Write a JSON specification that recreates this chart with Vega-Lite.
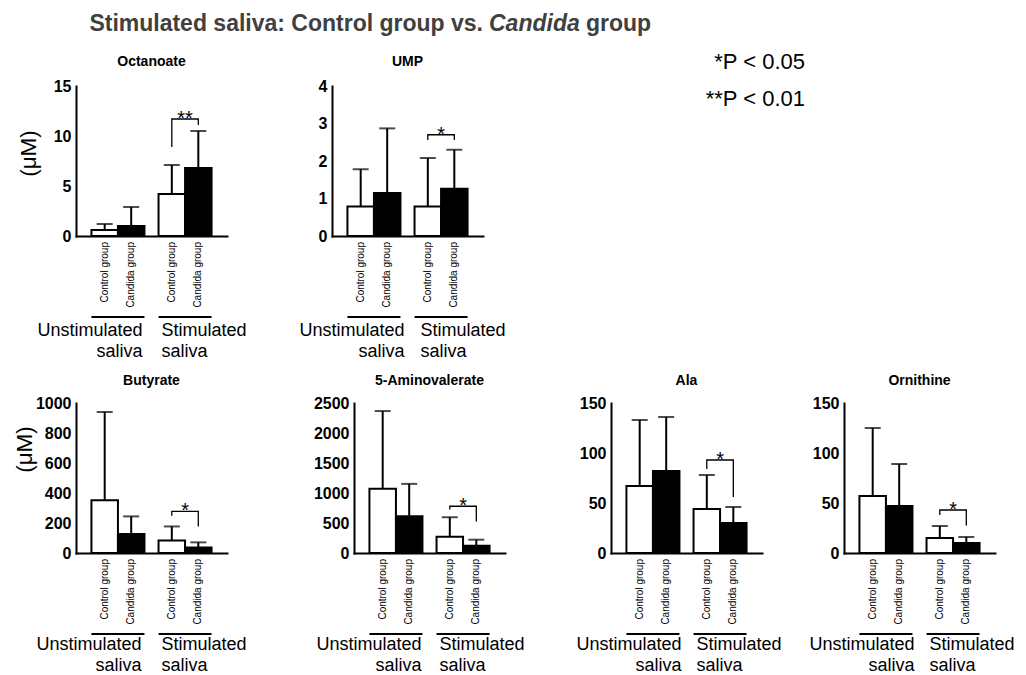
{
  "$schema": "https://vega.github.io/schema/vega-lite/v6.json",
  "padding": {"left": 12, "top": 12, "right": 4, "bottom": 2},
  "config": {
    "view": {"stroke": "transparent"},
    "font": "Liberation Sans",
    "text": {"color": "black"},
    "title": {"color": "black"},
    "axisY": {"ticks": false, "grid": false, "labelFontSize": 16, "labelFontWeight": "bold", "labelColor": "black", "labelPadding": 5, "labelOverlap": false, "format": "d", "domainWidth": 2, "domainColor": "black", "domainCap": "square", "titleFontSize": 22.5, "titleFontWeight": "normal", "titleColor": "black", "titleAngle": 270, "titleAlign": "center", "titleBaseline": "middle"},
    "axisX": {"title": null, "labels": false, "ticks": false, "domainWidth": 2, "domainColor": "black", "domainCap": "square"}
  },
  "datasets": {
    "bars": [
      {"metabolite": "Octanoate", "saliva": "Unstimulated", "group": "Control group", "mean": 0.6, "upper": 1.2},
      {"metabolite": "Octanoate", "saliva": "Unstimulated", "group": "Candida group", "mean": 1.0, "upper": 2.9},
      {"metabolite": "Octanoate", "saliva": "Stimulated", "group": "Control group", "mean": 4.2, "upper": 7.1},
      {"metabolite": "Octanoate", "saliva": "Stimulated", "group": "Candida group", "mean": 6.8, "upper": 10.5},
      {"metabolite": "UMP", "saliva": "Unstimulated", "group": "Control group", "mean": 0.79, "upper": 1.78},
      {"metabolite": "UMP", "saliva": "Unstimulated", "group": "Candida group", "mean": 1.15, "upper": 2.87},
      {"metabolite": "UMP", "saliva": "Stimulated", "group": "Control group", "mean": 0.79, "upper": 2.08},
      {"metabolite": "UMP", "saliva": "Stimulated", "group": "Candida group", "mean": 1.26, "upper": 2.3},
      {"metabolite": "Butyrate", "saliva": "Unstimulated", "group": "Control group", "mean": 351, "upper": 940},
      {"metabolite": "Butyrate", "saliva": "Unstimulated", "group": "Candida group", "mean": 127, "upper": 244},
      {"metabolite": "Butyrate", "saliva": "Stimulated", "group": "Control group", "mean": 84, "upper": 177},
      {"metabolite": "Butyrate", "saliva": "Stimulated", "group": "Candida group", "mean": 37, "upper": 71},
      {"metabolite": "5-Aminovalerate", "saliva": "Unstimulated", "group": "Control group", "mean": 1069, "upper": 2366},
      {"metabolite": "5-Aminovalerate", "saliva": "Unstimulated", "group": "Candida group", "mean": 612, "upper": 1152},
      {"metabolite": "5-Aminovalerate", "saliva": "Stimulated", "group": "Control group", "mean": 272, "upper": 596},
      {"metabolite": "5-Aminovalerate", "saliva": "Stimulated", "group": "Candida group", "mean": 122, "upper": 222},
      {"metabolite": "Ala", "saliva": "Unstimulated", "group": "Control group", "mean": 67, "upper": 133},
      {"metabolite": "Ala", "saliva": "Unstimulated", "group": "Candida group", "mean": 82, "upper": 136},
      {"metabolite": "Ala", "saliva": "Stimulated", "group": "Control group", "mean": 44, "upper": 78},
      {"metabolite": "Ala", "saliva": "Stimulated", "group": "Candida group", "mean": 30, "upper": 46},
      {"metabolite": "Ornithine", "saliva": "Unstimulated", "group": "Control group", "mean": 57, "upper": 125},
      {"metabolite": "Ornithine", "saliva": "Unstimulated", "group": "Candida group", "mean": 47, "upper": 89},
      {"metabolite": "Ornithine", "saliva": "Stimulated", "group": "Control group", "mean": 15, "upper": 27},
      {"metabolite": "Ornithine", "saliva": "Stimulated", "group": "Candida group", "mean": 10, "upper": 16}
    ],
    "brackets": [
      {"metabolite": "Octanoate", "saliva": "Stimulated", "group": "Control group", "step": 1, "y": 8.9},
      {"metabolite": "Octanoate", "saliva": "Stimulated", "group": "Control group", "step": 2, "y": 11.7},
      {"metabolite": "Octanoate", "saliva": "Stimulated", "group": "Candida group", "step": 3, "y": 11.7},
      {"metabolite": "Octanoate", "saliva": "Stimulated", "group": "Candida group", "step": 4, "y": 11.1},
      {"metabolite": "UMP", "saliva": "Stimulated", "group": "Control group", "step": 1, "y": 2.56},
      {"metabolite": "UMP", "saliva": "Stimulated", "group": "Control group", "step": 2, "y": 2.7},
      {"metabolite": "UMP", "saliva": "Stimulated", "group": "Candida group", "step": 3, "y": 2.7},
      {"metabolite": "UMP", "saliva": "Stimulated", "group": "Candida group", "step": 4, "y": 2.56},
      {"metabolite": "Butyrate", "saliva": "Stimulated", "group": "Control group", "step": 1, "y": 249},
      {"metabolite": "Butyrate", "saliva": "Stimulated", "group": "Control group", "step": 2, "y": 277},
      {"metabolite": "Butyrate", "saliva": "Stimulated", "group": "Candida group", "step": 3, "y": 277},
      {"metabolite": "Butyrate", "saliva": "Stimulated", "group": "Candida group", "step": 4, "y": 177},
      {"metabolite": "5-Aminovalerate", "saliva": "Stimulated", "group": "Control group", "step": 1, "y": 723},
      {"metabolite": "5-Aminovalerate", "saliva": "Stimulated", "group": "Control group", "step": 2, "y": 779},
      {"metabolite": "5-Aminovalerate", "saliva": "Stimulated", "group": "Candida group", "step": 3, "y": 779},
      {"metabolite": "5-Aminovalerate", "saliva": "Stimulated", "group": "Candida group", "step": 4, "y": 523},
      {"metabolite": "Ala", "saliva": "Stimulated", "group": "Control group", "step": 1, "y": 84},
      {"metabolite": "Ala", "saliva": "Stimulated", "group": "Control group", "step": 2, "y": 93},
      {"metabolite": "Ala", "saliva": "Stimulated", "group": "Candida group", "step": 3, "y": 93},
      {"metabolite": "Ala", "saliva": "Stimulated", "group": "Candida group", "step": 4, "y": 56},
      {"metabolite": "Ornithine", "saliva": "Stimulated", "group": "Control group", "step": 1, "y": 38},
      {"metabolite": "Ornithine", "saliva": "Stimulated", "group": "Control group", "step": 2, "y": 43},
      {"metabolite": "Ornithine", "saliva": "Stimulated", "group": "Candida group", "step": 3, "y": 43},
      {"metabolite": "Ornithine", "saliva": "Stimulated", "group": "Candida group", "step": 4, "y": 27.5}
    ],
    "stars": [
      {"metabolite": "Octanoate", "saliva": "Stimulated", "label": "**", "y": 11.7},
      {"metabolite": "UMP", "saliva": "Stimulated", "label": "*", "y": 2.7},
      {"metabolite": "Butyrate", "saliva": "Stimulated", "label": "*", "y": 277},
      {"metabolite": "5-Aminovalerate", "saliva": "Stimulated", "label": "*", "y": 779},
      {"metabolite": "Ala", "saliva": "Stimulated", "label": "*", "y": 93},
      {"metabolite": "Ornithine", "saliva": "Stimulated", "label": "*", "y": 43}
    ],
    "groups": [
      {"saliva": "Unstimulated", "label": "Unstimulated\nsaliva"},
      {"saliva": "Stimulated", "label": "Stimulated\nsaliva"}
    ]
  },
  "bounds": "full",
  "spacing": 1,
  "vconcat": [
    {
      "bounds": "full",
      "spacing": 6,
      "hconcat": [
        {"width": 407, "height": 1, "data": {"values": [{}]}, "mark": {"type": "text", "text": ""},
         "title": {"text": "Stimulated saliva: Control group vs.", "anchor": "end", "fontSize": 23, "fontWeight": "bold", "color": "#404040", "frame": "group", "offset": 2}},
        {"width": 1, "height": 1, "data": {"values": [{}]}, "mark": {"type": "text", "text": ""},
         "title": {"text": "Candida", "anchor": "start", "fontSize": 23, "fontWeight": "bold", "fontStyle": "italic", "color": "#404040", "frame": "group", "offset": 2}},
        {"width": 1, "height": 1, "data": {"values": [{}]}, "mark": {"type": "text", "text": ""},
         "title": {"text": "group", "anchor": "start", "fontSize": 23, "fontWeight": "bold", "color": "#404040", "frame": "group", "offset": 2}}
      ]
    },
    {
      "bounds": "flush",
      "spacing": 0,
      "hconcat": [
        {
          "width": 151, "height": 150,
          "title": {"text": "Octanoate", "fontSize": 14, "fontWeight": "bold", "frame": "group", "offset": -2, "baseline": "alphabetic"},
          "encoding": {"x": {"field": "saliva", "type": "nominal", "scale": {"domain": ["Unstimulated", "Stimulated"], "paddingInner": 0.21, "paddingOuter": 0.23}}},
          "layer": [
            {"data": {"name": "bars"}, "transform": [{"filter": "datum.metabolite == 'Octanoate'"}],
             "mark": {"type": "rule", "strokeWidth": 2, "color": "black"},
             "encoding": {"xOffset": {"field": "group", "type": "nominal", "scale": {"domain": ["Control group", "Candida group"], "paddingInner": 0, "paddingOuter": 0}},
               "y": {"field": "mean", "type": "quantitative", "scale": {"domain": [0, 15], "nice": false},
                 "axis": {"values": [0, 5, 10, 15], "tickCount": 20, "labelOverlap": false, "title": "(μM)", "titleX": -48, "titleY": 67}},
               "y2": {"field": "upper"}}},
            {"data": {"name": "bars"}, "transform": [{"filter": "datum.metabolite == 'Octanoate'"}],
             "mark": {"type": "tick", "thickness": 2, "size": 16, "color": "black"},
             "encoding": {"xOffset": {"field": "group", "type": "nominal"}, "y": {"field": "upper", "type": "quantitative"}}},
            {"data": {"name": "bars"}, "transform": [{"filter": "datum.metabolite == 'Octanoate'"}],
             "mark": {"type": "bar", "stroke": "black", "strokeWidth": 2},
             "encoding": {"xOffset": {"field": "group", "type": "nominal"}, "y": {"field": "mean", "type": "quantitative"},
               "fill": {"field": "group", "type": "nominal", "scale": {"domain": ["Control group", "Candida group"], "range": ["white", "black"]}, "legend": null}}},
            {"data": {"name": "brackets"}, "transform": [{"filter": "datum.metabolite == 'Octanoate'"}],
             "mark": {"type": "line", "strokeWidth": 1.3, "color": "black"},
             "encoding": {"xOffset": {"field": "group", "type": "nominal"}, "y": {"field": "y", "type": "quantitative"}, "order": {"field": "step", "type": "quantitative"}}},
            {"data": {"name": "stars"}, "transform": [{"filter": "datum.metabolite == 'Octanoate'"}],
             "mark": {"type": "text", "fontSize": 20, "baseline": "alphabetic", "dy": 6},
             "encoding": {"y": {"field": "y", "type": "quantitative"}, "text": {"field": "label"}}},
            {"data": {"name": "bars"}, "transform": [{"filter": "datum.metabolite == 'Octanoate'"}],
             "mark": {"type": "text", "angle": 270, "align": "right", "baseline": "middle", "dx": -6, "fontSize": 10},
             "encoding": {"xOffset": {"field": "group", "type": "nominal"}, "y": {"datum": 0}, "text": {"field": "group"}}},
            {"data": {"name": "groups"},
             "mark": {"type": "bar", "color": "black", "yOffset": 80, "y2Offset": 82},
             "encoding": {"y": {"datum": 0}, "y2": {"datum": 0}}},
            {"data": {"name": "groups"}, "transform": [{"filter": "datum.saliva == 'Unstimulated'"}],
             "mark": {"type": "text", "align": "right", "baseline": "top", "fontSize": 18, "lineBreak": "\n", "lineHeight": 21, "dy": 86, "dx": -2},
             "encoding": {"x": {"field": "saliva", "type": "nominal", "bandPosition": 1}, "y": {"datum": 0}, "text": {"field": "label"}}},
            {"data": {"name": "groups"}, "transform": [{"filter": "datum.saliva == 'Stimulated'"}],
             "mark": {"type": "text", "align": "left", "baseline": "top", "fontSize": 18, "lineBreak": "\n", "lineHeight": 21, "dy": 86, "dx": 3},
             "encoding": {"x": {"field": "saliva", "type": "nominal", "bandPosition": 0}, "y": {"datum": 0}, "text": {"field": "label"}}}
          ]
        },
        {"width": 105, "height": 1, "data": {"values": [{}]}, "mark": {"type": "text", "text": ""}},
        {
          "width": 151, "height": 150,
          "title": {"text": "UMP", "fontSize": 14, "fontWeight": "bold", "frame": "group", "offset": -2, "baseline": "alphabetic"},
          "encoding": {"x": {"field": "saliva", "type": "nominal", "scale": {"domain": ["Unstimulated", "Stimulated"], "paddingInner": 0.21, "paddingOuter": 0.23}}},
          "layer": [
            {"data": {"name": "bars"}, "transform": [{"filter": "datum.metabolite == 'UMP'"}],
             "mark": {"type": "rule", "strokeWidth": 2, "color": "black"},
             "encoding": {"xOffset": {"field": "group", "type": "nominal", "scale": {"domain": ["Control group", "Candida group"], "paddingInner": 0, "paddingOuter": 0}},
               "y": {"field": "mean", "type": "quantitative", "scale": {"domain": [0, 4], "nice": false},
                 "axis": {"values": [0, 1, 2, 3, 4], "tickCount": 20, "labelOverlap": false, "title": null}},
               "y2": {"field": "upper"}}},
            {"data": {"name": "bars"}, "transform": [{"filter": "datum.metabolite == 'UMP'"}],
             "mark": {"type": "tick", "thickness": 2, "size": 16, "color": "black"},
             "encoding": {"xOffset": {"field": "group", "type": "nominal"}, "y": {"field": "upper", "type": "quantitative"}}},
            {"data": {"name": "bars"}, "transform": [{"filter": "datum.metabolite == 'UMP'"}],
             "mark": {"type": "bar", "stroke": "black", "strokeWidth": 2},
             "encoding": {"xOffset": {"field": "group", "type": "nominal"}, "y": {"field": "mean", "type": "quantitative"},
               "fill": {"field": "group", "type": "nominal", "scale": {"domain": ["Control group", "Candida group"], "range": ["white", "black"]}, "legend": null}}},
            {"data": {"name": "brackets"}, "transform": [{"filter": "datum.metabolite == 'UMP'"}],
             "mark": {"type": "line", "strokeWidth": 1.3, "color": "black"},
             "encoding": {"xOffset": {"field": "group", "type": "nominal"}, "y": {"field": "y", "type": "quantitative"}, "order": {"field": "step", "type": "quantitative"}}},
            {"data": {"name": "stars"}, "transform": [{"filter": "datum.metabolite == 'UMP'"}],
             "mark": {"type": "text", "fontSize": 20, "baseline": "alphabetic", "dy": 6},
             "encoding": {"y": {"field": "y", "type": "quantitative"}, "text": {"field": "label"}}},
            {"data": {"name": "bars"}, "transform": [{"filter": "datum.metabolite == 'UMP'"}],
             "mark": {"type": "text", "angle": 270, "align": "right", "baseline": "middle", "dx": -6, "fontSize": 10},
             "encoding": {"xOffset": {"field": "group", "type": "nominal"}, "y": {"datum": 0}, "text": {"field": "group"}}},
            {"data": {"name": "groups"},
             "mark": {"type": "bar", "color": "black", "yOffset": 80, "y2Offset": 82},
             "encoding": {"y": {"datum": 0}, "y2": {"datum": 0}}},
            {"data": {"name": "groups"}, "transform": [{"filter": "datum.saliva == 'Unstimulated'"}],
             "mark": {"type": "text", "align": "right", "baseline": "top", "fontSize": 18, "lineBreak": "\n", "lineHeight": 21, "dy": 86, "dx": 4},
             "encoding": {"x": {"field": "saliva", "type": "nominal", "bandPosition": 1}, "y": {"datum": 0}, "text": {"field": "label"}}},
            {"data": {"name": "groups"}, "transform": [{"filter": "datum.saliva == 'Stimulated'"}],
             "mark": {"type": "text", "align": "left", "baseline": "top", "fontSize": 18, "lineBreak": "\n", "lineHeight": 21, "dy": 86, "dx": 6},
             "encoding": {"x": {"field": "saliva", "type": "nominal", "bandPosition": 0}, "y": {"datum": 0}, "text": {"field": "label"}}}
          ]
        },
        {"width": 321, "height": 286, "data": {"values": [{}]}, "mark": {"type": "text", "text": ""}},
        {
          "width": 2, "height": 37,
          "data": {"values": [{"t": "*P < 0.05"}, {"t": "**P < 0.01"}]},
          "mark": {"type": "text", "align": "right", "baseline": "alphabetic", "fontSize": 22, "yOffset": -17},
          "encoding": {
            "y": {"field": "t", "type": "nominal", "sort": ["*P < 0.05", "**P < 0.01"], "scale": {"type": "point", "padding": 0}, "axis": null},
            "text": {"field": "t"}
          }
        }
      ]
    },
    {
      "bounds": "flush",
      "spacing": 0,
      "hconcat": [
        {
          "width": 151, "height": 150,
          "title": {"text": "Butyrate", "fontSize": 14, "fontWeight": "bold", "frame": "group", "offset": -4, "baseline": "alphabetic"},
          "encoding": {"x": {"field": "saliva", "type": "nominal", "scale": {"domain": ["Unstimulated", "Stimulated"], "paddingInner": 0.21, "paddingOuter": 0.23}}},
          "layer": [
            {"data": {"name": "bars"}, "transform": [{"filter": "datum.metabolite == 'Butyrate'"}],
             "mark": {"type": "rule", "strokeWidth": 2, "color": "black"},
             "encoding": {"xOffset": {"field": "group", "type": "nominal", "scale": {"domain": ["Control group", "Candida group"], "paddingInner": 0, "paddingOuter": 0}},
               "y": {"field": "mean", "type": "quantitative", "scale": {"domain": [0, 1000], "nice": false},
                 "axis": {"values": [0, 200, 400, 600, 800, 1000], "tickCount": 20, "labelOverlap": false, "title": "(μM)", "titleX": -52, "titleY": 46}},
               "y2": {"field": "upper"}}},
            {"data": {"name": "bars"}, "transform": [{"filter": "datum.metabolite == 'Butyrate'"}],
             "mark": {"type": "tick", "thickness": 2, "size": 16, "color": "black"},
             "encoding": {"xOffset": {"field": "group", "type": "nominal"}, "y": {"field": "upper", "type": "quantitative"}}},
            {"data": {"name": "bars"}, "transform": [{"filter": "datum.metabolite == 'Butyrate'"}],
             "mark": {"type": "bar", "stroke": "black", "strokeWidth": 2},
             "encoding": {"xOffset": {"field": "group", "type": "nominal"}, "y": {"field": "mean", "type": "quantitative"},
               "fill": {"field": "group", "type": "nominal", "scale": {"domain": ["Control group", "Candida group"], "range": ["white", "black"]}, "legend": null}}},
            {"data": {"name": "brackets"}, "transform": [{"filter": "datum.metabolite == 'Butyrate'"}],
             "mark": {"type": "line", "strokeWidth": 1.3, "color": "black"},
             "encoding": {"xOffset": {"field": "group", "type": "nominal"}, "y": {"field": "y", "type": "quantitative"}, "order": {"field": "step", "type": "quantitative"}}},
            {"data": {"name": "stars"}, "transform": [{"filter": "datum.metabolite == 'Butyrate'"}],
             "mark": {"type": "text", "fontSize": 20, "baseline": "alphabetic", "dy": 6},
             "encoding": {"y": {"field": "y", "type": "quantitative"}, "text": {"field": "label"}}},
            {"data": {"name": "bars"}, "transform": [{"filter": "datum.metabolite == 'Butyrate'"}],
             "mark": {"type": "text", "angle": 270, "align": "right", "baseline": "middle", "dx": -6, "fontSize": 10},
             "encoding": {"xOffset": {"field": "group", "type": "nominal"}, "y": {"datum": 0}, "text": {"field": "group"}}},
            {"data": {"name": "groups"},
             "mark": {"type": "bar", "color": "black", "yOffset": 80, "y2Offset": 82},
             "encoding": {"y": {"datum": 0}, "y2": {"datum": 0}}},
            {"data": {"name": "groups"}, "transform": [{"filter": "datum.saliva == 'Unstimulated'"}],
             "mark": {"type": "text", "align": "right", "baseline": "top", "fontSize": 18, "lineBreak": "\n", "lineHeight": 21, "dy": 83, "dx": -3},
             "encoding": {"x": {"field": "saliva", "type": "nominal", "bandPosition": 1}, "y": {"datum": 0}, "text": {"field": "label"}}},
            {"data": {"name": "groups"}, "transform": [{"filter": "datum.saliva == 'Stimulated'"}],
             "mark": {"type": "text", "align": "left", "baseline": "top", "fontSize": 18, "lineBreak": "\n", "lineHeight": 21, "dy": 83, "dx": 3},
             "encoding": {"x": {"field": "saliva", "type": "nominal", "bandPosition": 0}, "y": {"datum": 0}, "text": {"field": "label"}}}
          ]
        },
        {"width": 127, "height": 1, "data": {"values": [{}]}, "mark": {"type": "text", "text": ""}},
        {
          "width": 151, "height": 150,
          "title": {"text": "5-Aminovalerate", "fontSize": 14, "fontWeight": "bold", "frame": "group", "offset": -4, "baseline": "alphabetic"},
          "encoding": {"x": {"field": "saliva", "type": "nominal", "scale": {"domain": ["Unstimulated", "Stimulated"], "paddingInner": 0.21, "paddingOuter": 0.23}}},
          "layer": [
            {"data": {"name": "bars"}, "transform": [{"filter": "datum.metabolite == '5-Aminovalerate'"}],
             "mark": {"type": "rule", "strokeWidth": 2, "color": "black"},
             "encoding": {"xOffset": {"field": "group", "type": "nominal", "scale": {"domain": ["Control group", "Candida group"], "paddingInner": 0, "paddingOuter": 0}},
               "y": {"field": "mean", "type": "quantitative", "scale": {"domain": [0, 2500], "nice": false},
                 "axis": {"values": [0, 500, 1000, 1500, 2000, 2500], "tickCount": 20, "labelOverlap": false, "title": null}},
               "y2": {"field": "upper"}}},
            {"data": {"name": "bars"}, "transform": [{"filter": "datum.metabolite == '5-Aminovalerate'"}],
             "mark": {"type": "tick", "thickness": 2, "size": 16, "color": "black"},
             "encoding": {"xOffset": {"field": "group", "type": "nominal"}, "y": {"field": "upper", "type": "quantitative"}}},
            {"data": {"name": "bars"}, "transform": [{"filter": "datum.metabolite == '5-Aminovalerate'"}],
             "mark": {"type": "bar", "stroke": "black", "strokeWidth": 2},
             "encoding": {"xOffset": {"field": "group", "type": "nominal"}, "y": {"field": "mean", "type": "quantitative"},
               "fill": {"field": "group", "type": "nominal", "scale": {"domain": ["Control group", "Candida group"], "range": ["white", "black"]}, "legend": null}}},
            {"data": {"name": "brackets"}, "transform": [{"filter": "datum.metabolite == '5-Aminovalerate'"}],
             "mark": {"type": "line", "strokeWidth": 1.3, "color": "black"},
             "encoding": {"xOffset": {"field": "group", "type": "nominal"}, "y": {"field": "y", "type": "quantitative"}, "order": {"field": "step", "type": "quantitative"}}},
            {"data": {"name": "stars"}, "transform": [{"filter": "datum.metabolite == '5-Aminovalerate'"}],
             "mark": {"type": "text", "fontSize": 20, "baseline": "alphabetic", "dy": 6},
             "encoding": {"y": {"field": "y", "type": "quantitative"}, "text": {"field": "label"}}},
            {"data": {"name": "bars"}, "transform": [{"filter": "datum.metabolite == '5-Aminovalerate'"}],
             "mark": {"type": "text", "angle": 270, "align": "right", "baseline": "middle", "dx": -6, "fontSize": 10},
             "encoding": {"xOffset": {"field": "group", "type": "nominal"}, "y": {"datum": 0}, "text": {"field": "group"}}},
            {"data": {"name": "groups"},
             "mark": {"type": "bar", "color": "black", "yOffset": 80, "y2Offset": 82},
             "encoding": {"y": {"datum": 0}, "y2": {"datum": 0}}},
            {"data": {"name": "groups"}, "transform": [{"filter": "datum.saliva == 'Unstimulated'"}],
             "mark": {"type": "text", "align": "right", "baseline": "top", "fontSize": 18, "lineBreak": "\n", "lineHeight": 21, "dy": 83, "dx": -1},
             "encoding": {"x": {"field": "saliva", "type": "nominal", "bandPosition": 1}, "y": {"datum": 0}, "text": {"field": "label"}}},
            {"data": {"name": "groups"}, "transform": [{"filter": "datum.saliva == 'Stimulated'"}],
             "mark": {"type": "text", "align": "left", "baseline": "top", "fontSize": 18, "lineBreak": "\n", "lineHeight": 21, "dy": 83, "dx": 3},
             "encoding": {"x": {"field": "saliva", "type": "nominal", "bandPosition": 0}, "y": {"datum": 0}, "text": {"field": "label"}}}
          ]
        },
        {"width": 106, "height": 1, "data": {"values": [{}]}, "mark": {"type": "text", "text": ""}},
        {
          "width": 151, "height": 150,
          "title": {"text": "Ala", "fontSize": 14, "fontWeight": "bold", "frame": "group", "offset": -4, "baseline": "alphabetic"},
          "encoding": {"x": {"field": "saliva", "type": "nominal", "scale": {"domain": ["Unstimulated", "Stimulated"], "paddingInner": 0.21, "paddingOuter": 0.23}}},
          "layer": [
            {"data": {"name": "bars"}, "transform": [{"filter": "datum.metabolite == 'Ala'"}],
             "mark": {"type": "rule", "strokeWidth": 2, "color": "black"},
             "encoding": {"xOffset": {"field": "group", "type": "nominal", "scale": {"domain": ["Control group", "Candida group"], "paddingInner": 0, "paddingOuter": 0}},
               "y": {"field": "mean", "type": "quantitative", "scale": {"domain": [0, 150], "nice": false},
                 "axis": {"values": [0, 50, 100, 150], "tickCount": 20, "labelOverlap": false, "title": null}},
               "y2": {"field": "upper"}}},
            {"data": {"name": "bars"}, "transform": [{"filter": "datum.metabolite == 'Ala'"}],
             "mark": {"type": "tick", "thickness": 2, "size": 16, "color": "black"},
             "encoding": {"xOffset": {"field": "group", "type": "nominal"}, "y": {"field": "upper", "type": "quantitative"}}},
            {"data": {"name": "bars"}, "transform": [{"filter": "datum.metabolite == 'Ala'"}],
             "mark": {"type": "bar", "stroke": "black", "strokeWidth": 2},
             "encoding": {"xOffset": {"field": "group", "type": "nominal"}, "y": {"field": "mean", "type": "quantitative"},
               "fill": {"field": "group", "type": "nominal", "scale": {"domain": ["Control group", "Candida group"], "range": ["white", "black"]}, "legend": null}}},
            {"data": {"name": "brackets"}, "transform": [{"filter": "datum.metabolite == 'Ala'"}],
             "mark": {"type": "line", "strokeWidth": 1.3, "color": "black"},
             "encoding": {"xOffset": {"field": "group", "type": "nominal"}, "y": {"field": "y", "type": "quantitative"}, "order": {"field": "step", "type": "quantitative"}}},
            {"data": {"name": "stars"}, "transform": [{"filter": "datum.metabolite == 'Ala'"}],
             "mark": {"type": "text", "fontSize": 20, "baseline": "alphabetic", "dy": 6},
             "encoding": {"y": {"field": "y", "type": "quantitative"}, "text": {"field": "label"}}},
            {"data": {"name": "bars"}, "transform": [{"filter": "datum.metabolite == 'Ala'"}],
             "mark": {"type": "text", "angle": 270, "align": "right", "baseline": "middle", "dx": -6, "fontSize": 10},
             "encoding": {"xOffset": {"field": "group", "type": "nominal"}, "y": {"datum": 0}, "text": {"field": "group"}}},
            {"data": {"name": "groups"},
             "mark": {"type": "bar", "color": "black", "yOffset": 80, "y2Offset": 82},
             "encoding": {"y": {"datum": 0}, "y2": {"datum": 0}}},
            {"data": {"name": "groups"}, "transform": [{"filter": "datum.saliva == 'Unstimulated'"}],
             "mark": {"type": "text", "align": "right", "baseline": "top", "fontSize": 18, "lineBreak": "\n", "lineHeight": 21, "dy": 83, "dx": 2},
             "encoding": {"x": {"field": "saliva", "type": "nominal", "bandPosition": 1}, "y": {"datum": 0}, "text": {"field": "label"}}},
            {"data": {"name": "groups"}, "transform": [{"filter": "datum.saliva == 'Stimulated'"}],
             "mark": {"type": "text", "align": "left", "baseline": "top", "fontSize": 18, "lineBreak": "\n", "lineHeight": 21, "dy": 83, "dx": 3},
             "encoding": {"x": {"field": "saliva", "type": "nominal", "bandPosition": 0}, "y": {"datum": 0}, "text": {"field": "label"}}}
          ]
        },
        {"width": 82, "height": 1, "data": {"values": [{}]}, "mark": {"type": "text", "text": ""}},
        {
          "width": 151, "height": 150,
          "title": {"text": "Ornithine", "fontSize": 14, "fontWeight": "bold", "frame": "group", "offset": -4, "baseline": "alphabetic"},
          "encoding": {"x": {"field": "saliva", "type": "nominal", "scale": {"domain": ["Unstimulated", "Stimulated"], "paddingInner": 0.21, "paddingOuter": 0.23}}},
          "layer": [
            {"data": {"name": "bars"}, "transform": [{"filter": "datum.metabolite == 'Ornithine'"}],
             "mark": {"type": "rule", "strokeWidth": 2, "color": "black"},
             "encoding": {"xOffset": {"field": "group", "type": "nominal", "scale": {"domain": ["Control group", "Candida group"], "paddingInner": 0, "paddingOuter": 0}},
               "y": {"field": "mean", "type": "quantitative", "scale": {"domain": [0, 150], "nice": false},
                 "axis": {"values": [0, 50, 100, 150], "tickCount": 20, "labelOverlap": false, "title": null}},
               "y2": {"field": "upper"}}},
            {"data": {"name": "bars"}, "transform": [{"filter": "datum.metabolite == 'Ornithine'"}],
             "mark": {"type": "tick", "thickness": 2, "size": 16, "color": "black"},
             "encoding": {"xOffset": {"field": "group", "type": "nominal"}, "y": {"field": "upper", "type": "quantitative"}}},
            {"data": {"name": "bars"}, "transform": [{"filter": "datum.metabolite == 'Ornithine'"}],
             "mark": {"type": "bar", "stroke": "black", "strokeWidth": 2},
             "encoding": {"xOffset": {"field": "group", "type": "nominal"}, "y": {"field": "mean", "type": "quantitative"},
               "fill": {"field": "group", "type": "nominal", "scale": {"domain": ["Control group", "Candida group"], "range": ["white", "black"]}, "legend": null}}},
            {"data": {"name": "brackets"}, "transform": [{"filter": "datum.metabolite == 'Ornithine'"}],
             "mark": {"type": "line", "strokeWidth": 1.3, "color": "black"},
             "encoding": {"xOffset": {"field": "group", "type": "nominal"}, "y": {"field": "y", "type": "quantitative"}, "order": {"field": "step", "type": "quantitative"}}},
            {"data": {"name": "stars"}, "transform": [{"filter": "datum.metabolite == 'Ornithine'"}],
             "mark": {"type": "text", "fontSize": 20, "baseline": "alphabetic", "dy": 6},
             "encoding": {"y": {"field": "y", "type": "quantitative"}, "text": {"field": "label"}}},
            {"data": {"name": "bars"}, "transform": [{"filter": "datum.metabolite == 'Ornithine'"}],
             "mark": {"type": "text", "angle": 270, "align": "right", "baseline": "middle", "dx": -6, "fontSize": 10},
             "encoding": {"xOffset": {"field": "group", "type": "nominal"}, "y": {"datum": 0}, "text": {"field": "group"}}},
            {"data": {"name": "groups"},
             "mark": {"type": "bar", "color": "black", "yOffset": 80, "y2Offset": 82},
             "encoding": {"y": {"datum": 0}, "y2": {"datum": 0}}},
            {"data": {"name": "groups"}, "transform": [{"filter": "datum.saliva == 'Unstimulated'"}],
             "mark": {"type": "text", "align": "right", "baseline": "top", "fontSize": 18, "lineBreak": "\n", "lineHeight": 21, "dy": 83, "dx": 2},
             "encoding": {"x": {"field": "saliva", "type": "nominal", "bandPosition": 1}, "y": {"datum": 0}, "text": {"field": "label"}}},
            {"data": {"name": "groups"}, "transform": [{"filter": "datum.saliva == 'Stimulated'"}],
             "mark": {"type": "text", "align": "left", "baseline": "top", "fontSize": 18, "lineBreak": "\n", "lineHeight": 21, "dy": 83, "dx": 3},
             "encoding": {"x": {"field": "saliva", "type": "nominal", "bandPosition": 0}, "y": {"datum": 0}, "text": {"field": "label"}}}
          ]
        }
      ]
    }
  ]
}
